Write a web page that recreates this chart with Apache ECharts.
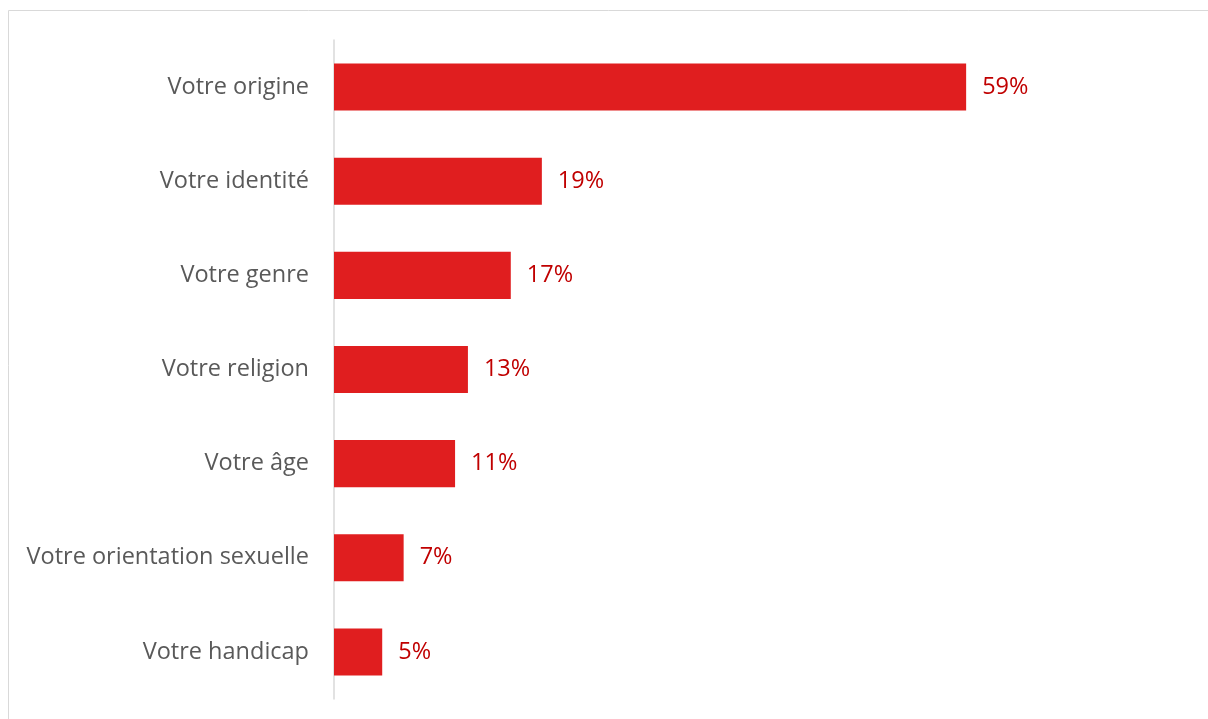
<!DOCTYPE html>
<html>
<head>
<meta charset="utf-8">
<script src="https://cdn.jsdelivr.net/npm/echarts@6/dist/echarts.min.js"></script>
<style>
  html, body { margin: 0; padding: 0; background: #fff; }
  #main { width: 1208px; height: 719px; }
</style>
</head>
<body>
<div id="main"></div>
<script>
  // categories top to bottom
  const categories = ['Votre origine', 'Votre identité', 'Votre genre', 'Votre religion', 'Votre âge', 'Votre orientation sexuelle', 'Votre handicap'];
  // bar lengths (labels are rounded)
  const values = [59, 19.4, 16.5, 12.5, 11.3, 6.5, 4.5];
  const valueLabels = ['59%', '19%', '17%', '13%', '11%', '7%', '5%'];

  let myChart = echarts.init(document.getElementById('main'));
  let option = {
    animation: false,
    graphic: [
      {
        type: 'rect',
        shape: { x: 8.5, y: 10.5, width: 1400, height: 900 },
        style: { fill: 'none', stroke: '#d9d9d9', lineWidth: 1 },
        silent: true
      }
    ],
    grid: { left: 334, top: 40, width: 750, height: 659 },
    xAxis: {
      type: 'value',
      min: 0,
      max: 70,
      show: false
    },
    yAxis: {
      type: 'category',
      data: categories,
      inverse: true,
      axisLine: { show: true, lineStyle: { color: '#d9d9d9', width: 1.5 } },
      axisTick: { show: false },
      axisLabel: {
        color: '#595959',
        fontSize: 23.5,
        fontFamily: 'Open Sans',
        margin: 25
      }
    },
    series: [
      {
        type: 'bar',
        data: values,
        barCategoryGap: '50%',
        itemStyle: { color: '#e01e1f' },
        label: {
          show: true,
          position: 'right',
          distance: 16,
          formatter: (p) => valueLabels[p.dataIndex],
          color: '#c00000',
          fontSize: 23.5,
          fontFamily: 'Open Sans'
        }
      }
    ]
  };
  option && myChart.setOption(option);
</script>
</body>
</html>
